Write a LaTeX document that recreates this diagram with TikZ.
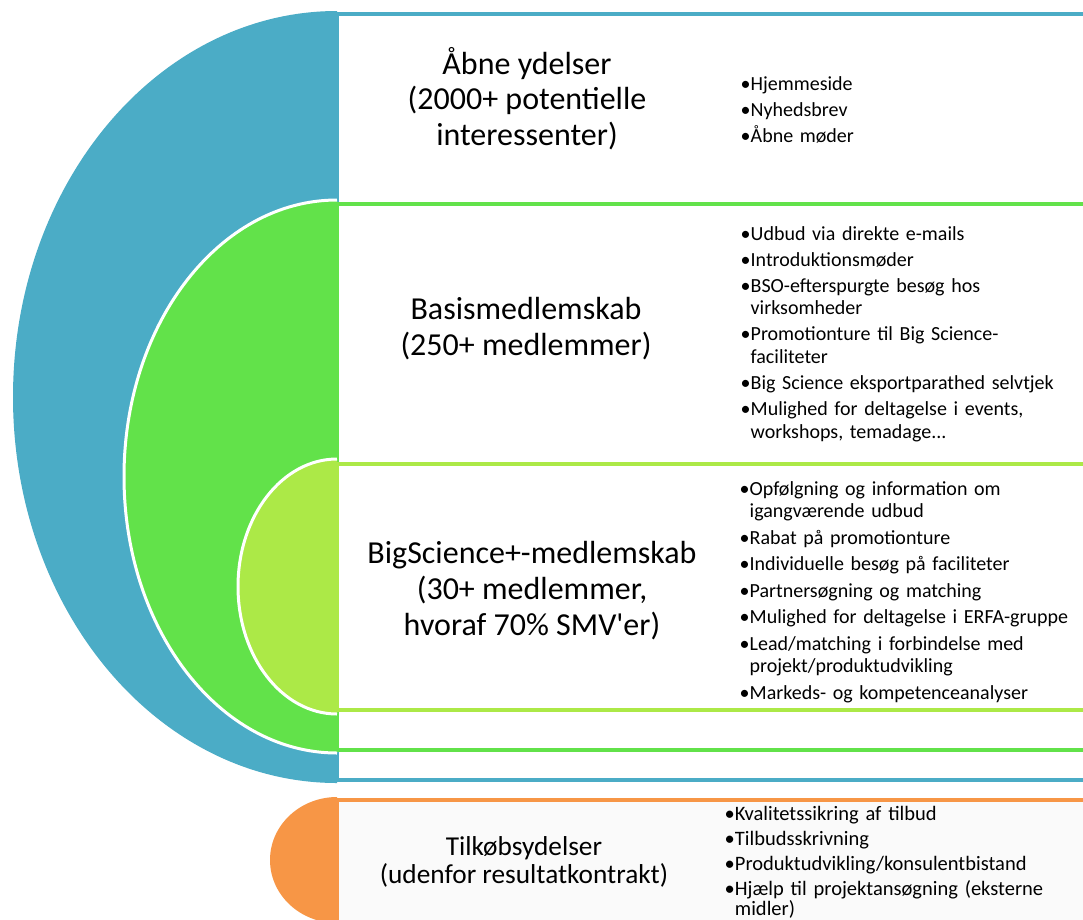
\documentclass[tikz,border=0pt]{standalone}
\usepackage{fontspec}
\setmainfont{Carlito}
\definecolor{blueC}{HTML}{4BACC6}
\definecolor{greenC}{HTML}{62E24A}
\definecolor{lgreenC}{HTML}{ACE947}
\definecolor{orangeC}{HTML}{F79646}
\definecolor{paleC}{HTML}{FAFAFA}
\newcommand\itm[1]{\setbox0\hbox{\textbullet}\hangindent\wd0 \hangafter1 \noindent\box0 #1\par}
\begin{document}
\begin{tikzpicture}[x=1pt,y=-1pt,
  band/.style={line width=4pt,fill=white},
  rim/.style={draw=white,line width=3pt},
  ttl/.style={anchor=base,align=center,inner sep=0pt,text=black,font=\fontsize{32}{35.5}\selectfont},
  lst/.style={anchor=base west,inner sep=0pt,text width=360pt,align=left,text=black}]
\clip (0,0) rectangle (1083,919);
\fill[white] (0,0) rectangle (1083,919);
% blue level
\fill[blueC] (337,11) arc[start angle=90,end angle=270,x radius=324pt,y radius=386pt] -- cycle;
\draw[band,draw=blueC] (337,13.5) rectangle (1100,780);
% green level
\draw[band,draw=greenC] (337,204) rectangle (1100,750);
\fill[greenC] (337,200) arc[start angle=90,end angle=270,x radius=213pt,y radius=276.5pt] -- cycle;
\draw[rim] (337,200) arc[start angle=90,end angle=270,x radius=213pt,y radius=276.5pt];
% light green level
\draw[band,draw=lgreenC] (337,464) rectangle (1100,710);
\fill[lgreenC] (337,459) arc[start angle=90,end angle=270,x radius=99pt,y radius=127.5pt] -- cycle;
\draw[rim] (337,459) arc[start angle=90,end angle=270,x radius=99pt,y radius=127.5pt];
% orange level
\draw[band,draw=orangeC,fill=paleC] (337,800) rectangle (1100,960);
\fill[orangeC] (337,797) arc[start angle=90,end angle=270,x radius=67pt,y radius=63pt] -- cycle;

% titles (anchor = baseline of last line)
\node[ttl] (t1) at (527,145) {Åbne ydelser\\(2000+ potentielle\\interessenter)};
\node[ttl] (t2) at (526,355) {Basismedlemskab\\(250+ medlemmer)};
\node[ttl,font=\fontsize{32}{36}\selectfont] (t3) at (532,635) {BigScience+-medlemskab\\(30+ medlemmer,\\hvoraf 70\% SMV\textquotesingle er)};
\node[ttl,font=\fontsize{27.3}{28.5}\selectfont] (t4) at (524,883.5) {Tilkøbsydelser\\(udenfor resultatkontrakt)};

% lists (anchor = baseline of first line)
\node[lst,font=\fontsize{20}{22.8}\selectfont] (l1) at (740.5,90) {\setlength\parskip{3.2pt}%
\itm{Hjemmeside}\itm{Nyhedsbrev}\itm{Åbne møder}};
\node[lst,font=\fontsize{20}{22.8}\selectfont] (l2) at (740.5,240) {\setlength\parskip{3.2pt}%
\itm{Udbud via direkte e-mails}\itm{Introduktionsmøder}\itm{BSO-efterspurgte besøg hos\newline virksomheder}\itm{Promotionture til Big Science-\newline faciliteter}\itm{Big Science eksportparathed selvtjek}\itm{Mulighed for deltagelse i events,\newline workshops, temadage...}};
\node[lst,font=\fontsize{20}{22.5}\selectfont] (l3) at (739.5,495) {\setlength\parskip{4pt}%
\itm{Opfølgning og information om\newline igangværende udbud}\itm{Rabat på promotionture}\itm{Individuelle besøg på faciliteter}\itm{Partnersøgning og matching}\itm{Mulighed for deltagelse i ERFA-gruppe}\itm{Lead/matching i forbindelse med\newline projekt/produktudvikling}\itm{Markeds- og kompetenceanalyser}};
\node[lst,font=\fontsize{20.5}{20}\selectfont] (l4) at (724.5,820) {\setlength\parskip{5pt}%
\itm{Kvalitetssikring af tilbud}\itm{Tilbudsskrivning}\itm{Produktudvikling/konsulentbistand}\itm{Hjælp til projektansøgning (eksterne\newline midler)}};
\end{tikzpicture}
\end{document}
